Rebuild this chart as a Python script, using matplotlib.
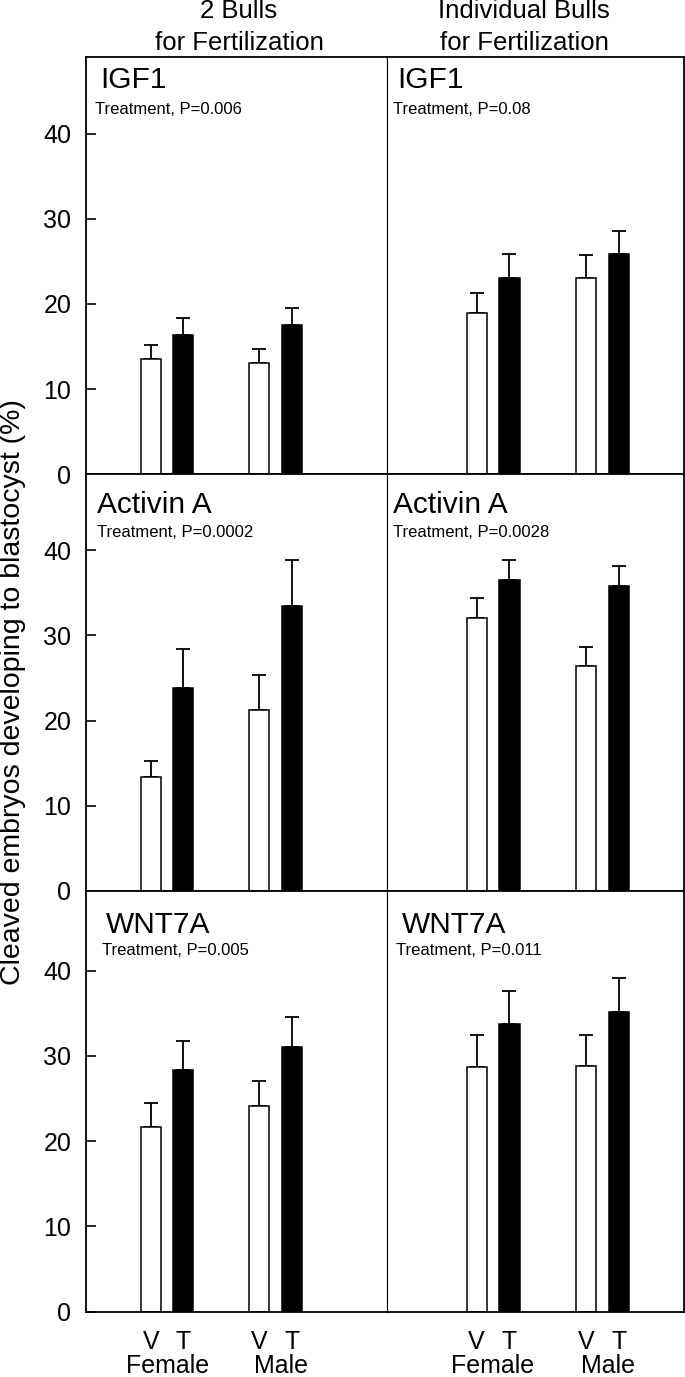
import matplotlib
matplotlib.use("Agg")
import matplotlib.pyplot as plt
import matplotlib.transforms as mtransforms
import numpy as np

plt.rcParams['font.family'] = ['Liberation Sans', 'DejaVu Sans']

# data: order is V female, T female, V male, T male
groups = ['Female', 'Male']
treat = ['V', 'T']
columns = ['2 Bulls\nfor Fertilization', 'Individual Bulls\nfor Fertilization']
factors = ['IGF1', 'Activin A', 'WNT7A']

igf1_2bulls = [13.5, 16.4, 13.1, 17.5]
igf1_2bulls_se = [1.7, 1.9, 1.6, 2.0]
igf1_ind = [18.9, 23.0, 23.0, 25.8]
igf1_ind_se = [2.4, 2.8, 2.7, 2.8]
act_2bulls = [13.4, 23.8, 21.2, 33.5]
act_2bulls_se = [1.8, 4.6, 4.2, 5.4]
act_ind = [32.1, 36.5, 26.4, 35.8]
act_ind_se = [2.3, 2.4, 2.2, 2.4]
wnt_2bulls = [21.7, 28.3, 24.1, 31.1]
wnt_2bulls_se = [2.8, 3.4, 3.0, 3.5]
wnt_ind = [28.7, 33.8, 28.8, 35.1]
wnt_ind_se = [3.7, 3.8, 3.7, 4.0]

pvals = [['Treatment, P=0.006', 'Treatment, P=0.08'],
         ['Treatment, P=0.0002', 'Treatment, P=0.0028'],
         ['Treatment, P=0.005', 'Treatment, P=0.011']]

means = [[igf1_2bulls, igf1_ind], [act_2bulls, act_ind], [wnt_2bulls, wnt_ind]]
errs = [[igf1_2bulls_se, igf1_ind_se], [act_2bulls_se, act_ind_se], [wnt_2bulls_se, wnt_ind_se]]

W, H = 685, 1377
fig = plt.figure(figsize=(W/100, H/100), dpi=100)

def fx(x):
    return x / W
def fy(y):
    return 1 - y / H

col_px = [(86, 387), (387, 683.5)]
row_px = [(56.7, 474.3), (474.3, 891), (891, 1311.5)]
col_xlim = [(-0.75, 2.03), (-0.97, 1.743)]
px_per_unit = 8.52

off = 0.15
bw = 0.185
xpos = np.array([0 - off, 0 + off, 1 - off, 1 + off])
fills = ['white', 'black', 'white', 'black']

title_x = [[100, 397], [97, 393], [106, 402]]
title_base = [88, 513, 933]
sub_x = [[95, 393], [97, 393], [102, 396]]
sub_base = [114, 537, 955]

for r in range(3):
    y0, y1 = row_px[r]
    for c in range(2):
        x0, x1 = col_px[c]
        ax = fig.add_axes([fx(x0), fy(y1), (x1 - x0) / W, (y1 - y0) / H])
        ax.bar(xpos, means[r][c], width=bw, color=fills, edgecolor='black',
               linewidth=1.1, zorder=2)
        ax.errorbar(xpos, means[r][c], yerr=[np.zeros(4), errs[r][c]], fmt='none',
                    ecolor='black', elinewidth=1.3, capsize=5, capthick=1.3, zorder=1)
        ax.set_xlim(*col_xlim[c])
        ax.set_ylim(0, (y1 - y0) / px_per_unit)
        for s in ax.spines.values():
            s.set_linewidth(1.3)
        if c == 0:
            ax.spines['right'].set_linewidth(0.8)
            ax.set_yticks([0, 10, 20, 30, 40])
            ax.tick_params(axis='y', direction='in', length=7, width=1.2,
                           labelsize=18, pad=10.5)
        else:
            ax.spines['left'].set_linewidth(0.8)
            ax.set_yticks([])
        if r == 2:
            ax.set_xticks(xpos)
            ax.set_xticklabels(treat * 2)
            ax.tick_params(axis='x', length=0, labelsize=18, pad=13)
            tr = mtransforms.blended_transform_factory(ax.transData, fig.transFigure)
            for g, name in enumerate(groups):
                ax.text(g + (0.05 if g == 1 else 0), fy(1373), name, transform=tr,
                        ha='center', va='baseline', fontsize=18)
        else:
            ax.set_xticks([])
        fig.text(fx(title_x[r][c]), fy(title_base[r]), factors[r], fontsize=21.5,
                 ha='left', va='baseline')
        fig.text(fx(sub_x[r][c]), fy(sub_base[r]), pvals[r][c], fontsize=12,
                 ha='left', va='baseline')

# column headings
head_x = [239, 524]
for c in range(2):
    top, bottom = columns[c].split('\n')
    fig.text(fx(head_x[c]), fy(18.3), top, fontsize=18.5, ha='center', va='baseline')
    fig.text(fx(head_x[c]), fy(50), bottom, fontsize=18.5, ha='center', va='baseline')

fig.text(fx(13), fy(692), 'Cleaved embryos developing to blastocyst (%)',
         rotation=90, ha='center', va='center', fontsize=20.5)

fig.savefig('out.png', dpi=100)
